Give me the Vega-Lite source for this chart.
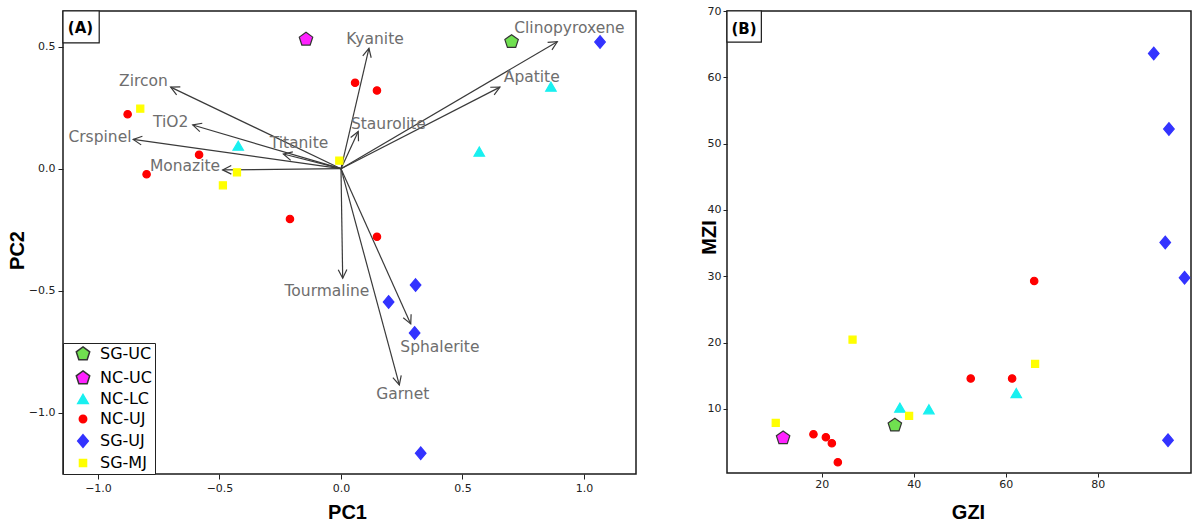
{
  "$schema": "https://vega.github.io/schema/vega-lite/v6.json",
  "padding": {"left": 6, "top": 4, "right": 0, "bottom": 0},
  "background": "white",
  "spacing": 61,
  "config": {
    "view": {"stroke": "#1a1a1a", "strokeWidth": 1.5},
    "axis": {"domain": false, "grid": false, "tickColor": "#222", "tickSize": 5, "tickWidth": 1,
      "labelFont": "DejaVu Sans", "labelFontSize": 11, "labelColor": "#222",
      "titleFont": "Liberation Sans", "titleFontSize": 20, "titleFontWeight": "bold", "titleColor": "#000"}
  },
  "datasets": {
    "pca": [
      {"group": "SG-UC", "PC1": 0.702, "PC2": 0.520},
      {"group": "NC-UC", "PC1": -0.144, "PC2": 0.530},
      {"group": "NC-LC", "PC1": 0.864, "PC2": 0.336},
      {"group": "NC-LC", "PC1": 0.569, "PC2": 0.070},
      {"group": "NC-LC", "PC1": -0.423, "PC2": 0.094},
      {"group": "NC-UJ", "PC1": 0.058, "PC2": 0.352},
      {"group": "NC-UJ", "PC1": 0.148, "PC2": 0.320},
      {"group": "NC-UJ", "PC1": 0.148, "PC2": -0.279},
      {"group": "NC-UJ", "PC1": -0.878, "PC2": 0.223},
      {"group": "NC-UJ", "PC1": -0.584, "PC2": 0.057},
      {"group": "NC-UJ", "PC1": -0.800, "PC2": -0.023},
      {"group": "NC-UJ", "PC1": -0.210, "PC2": -0.206},
      {"group": "SG-UJ", "PC1": 1.066, "PC2": 0.519},
      {"group": "SG-UJ", "PC1": 0.307, "PC2": -0.477},
      {"group": "SG-UJ", "PC1": 0.196, "PC2": -0.546},
      {"group": "SG-UJ", "PC1": 0.303, "PC2": -0.673},
      {"group": "SG-UJ", "PC1": 0.328, "PC2": -1.166},
      {"group": "SG-MJ", "PC1": -0.826, "PC2": 0.246},
      {"group": "SG-MJ", "PC1": -0.428, "PC2": -0.015},
      {"group": "SG-MJ", "PC1": -0.486, "PC2": -0.068},
      {"group": "SG-MJ", "PC1": -0.007, "PC2": 0.033}
    ],
    "load": [
      {"name": "Zircon", "lx": -0.701, "ly": 0.334, "tx": -0.813, "ty": 0.359},
      {"name": "TiO2", "lx": -0.610, "ly": 0.179, "tx": -0.701, "ty": 0.190},
      {"name": "Crspinel", "lx": -0.855, "ly": 0.120, "tx": -0.992, "ty": 0.129},
      {"name": "Monazite", "lx": -0.487, "ly": -0.005, "tx": -0.642, "ty": 0.012},
      {"name": "Titanite", "lx": -0.237, "ly": 0.060, "tx": -0.173, "ty": 0.104},
      {"name": "Kyanite", "lx": 0.115, "ly": 0.493, "tx": 0.140, "ty": 0.530},
      {"name": "Staurolite", "lx": 0.071, "ly": 0.152, "tx": 0.195, "ty": 0.182},
      {"name": "Clinopyroxene", "lx": 0.890, "ly": 0.520, "tx": 0.940, "ty": 0.575},
      {"name": "Apatite", "lx": 0.654, "ly": 0.334, "tx": 0.785, "ty": 0.375},
      {"name": "Tourmaline", "lx": 0.007, "ly": -0.449, "tx": -0.058, "ty": -0.500},
      {"name": "Sphalerite", "lx": 0.287, "ly": -0.636, "tx": 0.407, "ty": -0.729},
      {"name": "Garnet", "lx": 0.240, "ly": -0.886, "tx": 0.254, "ty": -0.925}
    ],
    "zi": [
      {"group": "SG-UC", "GZI": 35.9, "MZI": 7.55},
      {"group": "NC-UC", "GZI": 11.6, "MZI": 5.63},
      {"group": "NC-LC", "GZI": 37.0, "MZI": 10.2},
      {"group": "NC-LC", "GZI": 43.3, "MZI": 9.95},
      {"group": "NC-LC", "GZI": 62.3, "MZI": 12.4},
      {"group": "NC-UJ", "GZI": 66.2, "MZI": 29.3},
      {"group": "NC-UJ", "GZI": 52.4, "MZI": 14.6},
      {"group": "NC-UJ", "GZI": 61.4, "MZI": 14.6},
      {"group": "NC-UJ", "GZI": 18.2, "MZI": 6.2},
      {"group": "NC-UJ", "GZI": 20.9, "MZI": 5.74},
      {"group": "NC-UJ", "GZI": 22.2, "MZI": 4.83},
      {"group": "NC-UJ", "GZI": 23.5, "MZI": 1.97},
      {"group": "SG-UJ", "GZI": 92.2, "MZI": 63.6},
      {"group": "SG-UJ", "GZI": 95.5, "MZI": 52.2},
      {"group": "SG-UJ", "GZI": 94.7, "MZI": 35.1},
      {"group": "SG-UJ", "GZI": 98.9, "MZI": 29.8},
      {"group": "SG-UJ", "GZI": 95.3, "MZI": 5.3},
      {"group": "SG-MJ", "GZI": 26.7, "MZI": 20.45},
      {"group": "SG-MJ", "GZI": 66.4, "MZI": 16.8},
      {"group": "SG-MJ", "GZI": 39.0, "MZI": 8.95},
      {"group": "SG-MJ", "GZI": 10.0, "MZI": 7.9}
    ],
    "tagA": [{"tag": "(A)", "x0": -1.144, "x1": -0.995, "y0": 0.646, "y1": 0.515, "cx": -1.072, "cy": 0.575}],
    "tagB": [{"tag": "(B)", "x0": -0.6, "x1": 6.87, "y0": 70, "y1": 65.3, "cx": 3.1, "cy": 67.3}]
  },
  "resolve": {"scale": {"color": "independent", "shape": "independent", "stroke": "independent", "size": "independent"}},
  "hconcat": [
    {
      "width": 573,
      "height": 463,
      "layer": [
        {
          "data": {"name": "tagA"},
          "mark": {"type": "rect", "fill": "white", "stroke": "#1a1a1a", "strokeWidth": 1.2},
          "encoding": {
            "x": {"field": "x0", "type": "quantitative", "scale": {"domain": [-1.144, 1.214], "nice": false, "zero": false}, "title": "PC1"},
            "x2": {"field": "x1"},
            "y": {"field": "y0", "type": "quantitative", "scale": {"domain": [-1.251, 0.646], "nice": false, "zero": false}, "title": "PC2"},
            "y2": {"field": "y1"}
          }
        },
        {
          "data": {"name": "tagA"},
          "mark": {"type": "text", "font": "DejaVu Sans", "fontSize": 15, "fontWeight": "bold", "color": "#000", "align": "center", "baseline": "middle"},
          "encoding": {
            "x": {"field": "cx", "type": "quantitative", "title": "PC1"},
            "y": {"field": "cy", "type": "quantitative", "title": "PC2"},
            "text": {"field": "tag"}
          }
        },
        {
          "data": {"name": "load"},
          "mark": {"type": "rule", "color": "#3a3a3a", "strokeWidth": 1.2},
          "encoding": {
            "x": {"field": "lx", "type": "quantitative", "title": "PC1"},
            "y": {"field": "ly", "type": "quantitative", "title": "PC2"},
            "x2": {"datum": 0},
            "y2": {"datum": 0}
          }
        },
        {
          "data": {"name": "load"},
          "transform": [{"calculate": "90 - atan2(datum.ly, datum.lx) * 180 / PI", "as": "ang"}],
          "mark": {"type": "point", "shape": "M-0.5,1L0,0L0.5,1", "size": 300, "filled": false, "stroke": "#3a3a3a", "strokeWidth": 1.2, "opacity": 1},
          "encoding": {
            "x": {"field": "lx", "type": "quantitative", "title": "PC1"},
            "y": {"field": "ly", "type": "quantitative", "title": "PC2"},
            "angle": {"field": "ang", "type": "quantitative", "scale": null}
          }
        },
        {
          "data": {"name": "load"},
          "mark": {"type": "text", "font": "DejaVu Sans", "fontSize": 15.5, "color": "#6e6e6e", "align": "center", "baseline": "middle"},
          "encoding": {
            "x": {"field": "tx", "type": "quantitative", "title": "PC1"},
            "y": {"field": "ty", "type": "quantitative", "title": "PC2"},
            "text": {"field": "name"}
          }
        },
        {
          "data": {"name": "pca"},
          "mark": {"type": "point", "filled": true, "opacity": 1, "strokeWidth": 1.2},
          "encoding": {
            "x": {"field": "PC1", "type": "quantitative", "title": "PC1",
              "scale": {"domain": [-1.144, 1.214], "nice": false, "zero": false},
              "axis": {"values": [-1, -0.5, 0, 0.5, 1], "format": ".1f", "labelPadding": 3, "titleX": 284, "titleY": 38, "titleBaseline": "middle", "titleAlign": "center"}},
            "y": {"field": "PC2", "type": "quantitative", "title": "PC2",
              "scale": {"domain": [-1.251, 0.646], "nice": false, "zero": false},
              "axis": {"values": [-1, -0.5, 0, 0.5], "format": ".1f", "labelPadding": 3, "titleX": -46, "titleY": 239, "titleBaseline": "middle", "titleAlign": "center"}},
            "color": {"field": "group", "type": "nominal",
              "scale": {"domain": ["SG-UC", "NC-UC", "NC-LC", "NC-UJ", "SG-UJ", "SG-MJ"], "range": ["#70e050", "#ff22ff", "#18f0f0", "#ff0000", "#3333ff", "#ffff00"]},
              "legend": {"title": null, "orient": "bottom-left", "offset": 0, "strokeColor": "#222", "fillColor": "white",
                "padding": 3, "labelFont": "DejaVu Sans", "labelFontSize": 16, "labelColor": "#000", "symbolSize": 130,
                "symbolStrokeWidth": 1.5, "rowPadding": 4, "symbolOffset": 9, "labelOffset": 9,
                "encode": {"symbols": {"update": {"stroke": {"signal": "datum.value == 'SG-UC' || datum.value == 'NC-UC' ? '#333333' : 'transparent'"}}}}}},
            "shape": {"field": "group", "type": "nominal",
              "scale": {"domain": ["SG-UC", "NC-UC", "NC-LC", "NC-UJ", "SG-UJ", "SG-MJ"], "range": ["M0,-1L0.951,-0.309L0.588,0.809L-0.588,0.809L-0.951,-0.309Z", "M0,-1L0.951,-0.309L0.588,0.809L-0.588,0.809L-0.951,-0.309Z", "triangle-up", "circle", "M0,-1L0.84,0L0,1L-0.84,0Z", "square"]},
              "legend": {"title": null, "orient": "bottom-left"}},
            "stroke": {"field": "group", "type": "nominal", "legend": null,
              "scale": {"domain": ["SG-UC", "NC-UC", "NC-LC", "NC-UJ", "SG-UJ", "SG-MJ"], "range": ["#333333", "#333333", "#18f0f0", "#ff0000", "#3333ff", "#ffff00"]}},
            "size": {"field": "group", "type": "nominal", "legend": null,
              "scale": {"type": "ordinal", "domain": ["SG-UC", "NC-UC", "NC-LC", "NC-UJ", "SG-UJ", "SG-MJ"], "range": [200, 200, 110, 55, 160, 50]}}
          }
        }
      ]
    },
    {
      "width": 464,
      "height": 462,
      "layer": [
        {
          "data": {"name": "tagB"},
          "mark": {"type": "rect", "fill": "white", "stroke": "#1a1a1a", "strokeWidth": 1.2},
          "encoding": {
            "x": {"field": "x0", "type": "quantitative", "scale": {"domain": [-0.6, 100.3], "nice": false, "zero": false}, "title": "GZI"},
            "x2": {"field": "x1"},
            "y": {"field": "y0", "type": "quantitative", "scale": {"domain": [0.35, 70], "nice": false, "zero": false}, "title": "MZI"},
            "y2": {"field": "y1"}
          }
        },
        {
          "data": {"name": "tagB"},
          "mark": {"type": "text", "font": "DejaVu Sans", "fontSize": 15, "fontWeight": "bold", "color": "#000", "align": "center", "baseline": "middle"},
          "encoding": {
            "x": {"field": "cx", "type": "quantitative", "title": "GZI"},
            "y": {"field": "cy", "type": "quantitative", "title": "MZI"},
            "text": {"field": "tag"}
          }
        },
        {
          "data": {"name": "zi"},
          "mark": {"type": "point", "filled": true, "opacity": 1, "strokeWidth": 1.2},
          "encoding": {
            "x": {"field": "GZI", "type": "quantitative", "title": "GZI",
              "scale": {"domain": [-0.6, 100.3], "nice": false, "zero": false},
              "axis": {"values": [20, 40, 60, 80], "labelPadding": 1, "tickSize": 4, "titleX": 241, "titleY": 39, "titleBaseline": "middle", "titleAlign": "center"}},
            "y": {"field": "MZI", "type": "quantitative", "title": "MZI",
              "scale": {"domain": [0.35, 70], "nice": false, "zero": false},
              "axis": {"values": [10, 20, 30, 40, 50, 60, 70], "labelPadding": 2, "tickSize": 4, "titleX": -18, "titleY": 226, "titleBaseline": "middle", "titleAlign": "center"}},
            "color": {"field": "group", "type": "nominal", "legend": null,
              "scale": {"domain": ["SG-UC", "NC-UC", "NC-LC", "NC-UJ", "SG-UJ", "SG-MJ"], "range": ["#70e050", "#ff22ff", "#18f0f0", "#ff0000", "#3333ff", "#ffff00"]}},
            "stroke": {"field": "group", "type": "nominal", "legend": null,
              "scale": {"domain": ["SG-UC", "NC-UC", "NC-LC", "NC-UJ", "SG-UJ", "SG-MJ"], "range": ["#333333", "#333333", "#18f0f0", "#ff0000", "#3333ff", "#ffff00"]}},
            "shape": {"field": "group", "type": "nominal", "legend": null,
              "scale": {"domain": ["SG-UC", "NC-UC", "NC-LC", "NC-UJ", "SG-UJ", "SG-MJ"], "range": ["M0,-1L0.951,-0.309L0.588,0.809L-0.588,0.809L-0.951,-0.309Z", "M0,-1L0.951,-0.309L0.588,0.809L-0.588,0.809L-0.951,-0.309Z", "triangle-up", "circle", "M0,-1L0.84,0L0,1L-0.84,0Z", "square"]}},
            "size": {"field": "group", "type": "nominal", "legend": null,
              "scale": {"type": "ordinal", "domain": ["SG-UC", "NC-UC", "NC-LC", "NC-UJ", "SG-UJ", "SG-MJ"], "range": [200, 200, 110, 55, 160, 50]}}
          }
        }
      ]
    }
  ]
}
